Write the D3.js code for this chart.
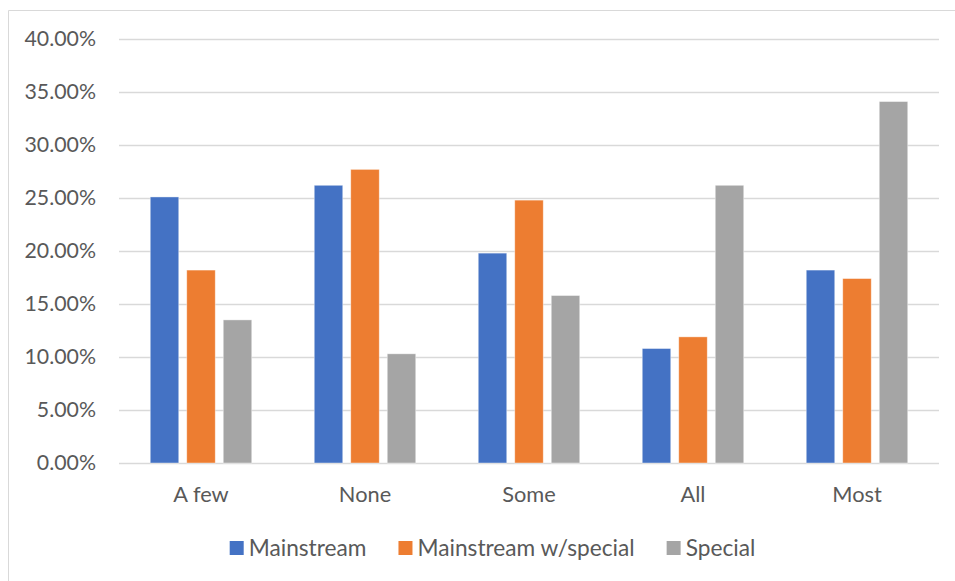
<!DOCTYPE html>
<html><head><meta charset="utf-8">
<script src="https://cdn.jsdelivr.net/npm/d3@7"></script>
<style>html,body{margin:0;padding:0;background:#fff;} svg{display:block;}</style>
</head><body>
<script>
const categories = ["A few", "None", "Some", "All", "Most"];
const seriesNames = ["Mainstream", "Mainstream w/special", "Special"];
const mainstream = [25.1, 26.2, 19.8, 10.8, 18.2];
const mainstreamSpecial = [18.2, 27.7, 24.8, 11.9, 17.4];
const special = [13.5, 10.3, 15.8, 26.2, 34.1];
const yTicks = [0, 5, 10, 15, 20, 25, 30, 35, 40];
const colors = ["#4472C4", "#ED7D31", "#A5A5A5"];

const seriesValues = [mainstream, mainstreamSpecial, special];
const W = 955, H = 581;
const margin = {left: 119, right: 16, top: 39, bottom: 118};
const font = "Lato, 'Open Sans', sans-serif";

const svg = d3.select("body").append("svg").attr("width", W).attr("height", H);
svg.append("rect").attr("width", W).attr("height", H).attr("fill", "#fff");
svg.append("path").attr("d", `M8.5,${H+2} V10.5 H${W+2}`).attr("fill","none").attr("stroke","#D9D9D9").attr("stroke-width",1);

const x0 = d3.scaleBand().domain(categories).range([margin.left, W - margin.right]).padding(0);
const x1 = d3.scaleBand().domain(seriesNames).range([0, x0.bandwidth()]).paddingInner(0.219).paddingOuter(0.856);
const y = d3.scaleLinear().domain([0, 40]).range([H - margin.bottom, margin.top]);

svg.append("g").selectAll("line").data(yTicks).join("line")
  .attr("x1", margin.left).attr("x2", W - margin.right)
  .attr("y1", d => Math.round(y(d)) + 0.5).attr("y2", d => Math.round(y(d)) + 0.5)
  .attr("stroke", "#D9D9D9").attr("stroke-width", 1.3);

svg.append("g").selectAll("text").data(yTicks).join("text")
  .attr("x", 96).attr("y", d => y(d)).attr("dy", "0.35em")
  .attr("text-anchor", "end").attr("font-family", font).attr("font-size", 21.3).attr("fill", "#595959")
  .text(d => d.toFixed(2) + "%");

const g = svg.append("g");
categories.forEach((c, i) => {
  seriesNames.forEach((s, j) => {
    g.append("rect")
      .attr("x", x0(c) + x1(s)).attr("width", x1.bandwidth())
      .attr("y", y(seriesValues[j][i])).attr("height", y(0) - y(seriesValues[j][i]))
      .attr("fill", colors[j]).attr("stroke", "#fff").attr("stroke-opacity", 0.5).attr("stroke-width", 0.8);
  });
});

svg.append("g").selectAll("text").data(categories).join("text")
  .attr("x", d => x0(d) + x0.bandwidth() / 2).attr("y", 494).attr("dy", "0.35em")
  .attr("text-anchor", "middle").attr("font-family", font).attr("font-size", 21.8).attr("fill", "#595959")
  .text(d => d);

const leg = svg.append("g");
const items = seriesNames.map((s, j) => {
  const it = leg.append("g");
  it.append("rect").attr("width", 14).attr("height", 14).attr("y", 541).attr("fill", colors[j]);
  const t = it.append("text").attr("x", 19).attr("y", 548).attr("dy", "0.35em")
    .attr("font-family", font).attr("font-size", 22.7).attr("fill", "#595959").text(s);
  return {it, w: 19 + t.node().getComputedTextLength()};
});
const gap = 32;
const total = d3.sum(items, d => d.w) + gap * (items.length - 1);
let cx = 492.5 - total / 2;
items.forEach(d => { d.it.attr("transform", `translate(${cx},0)`); cx += d.w + gap; });
</script>
</body></html>
